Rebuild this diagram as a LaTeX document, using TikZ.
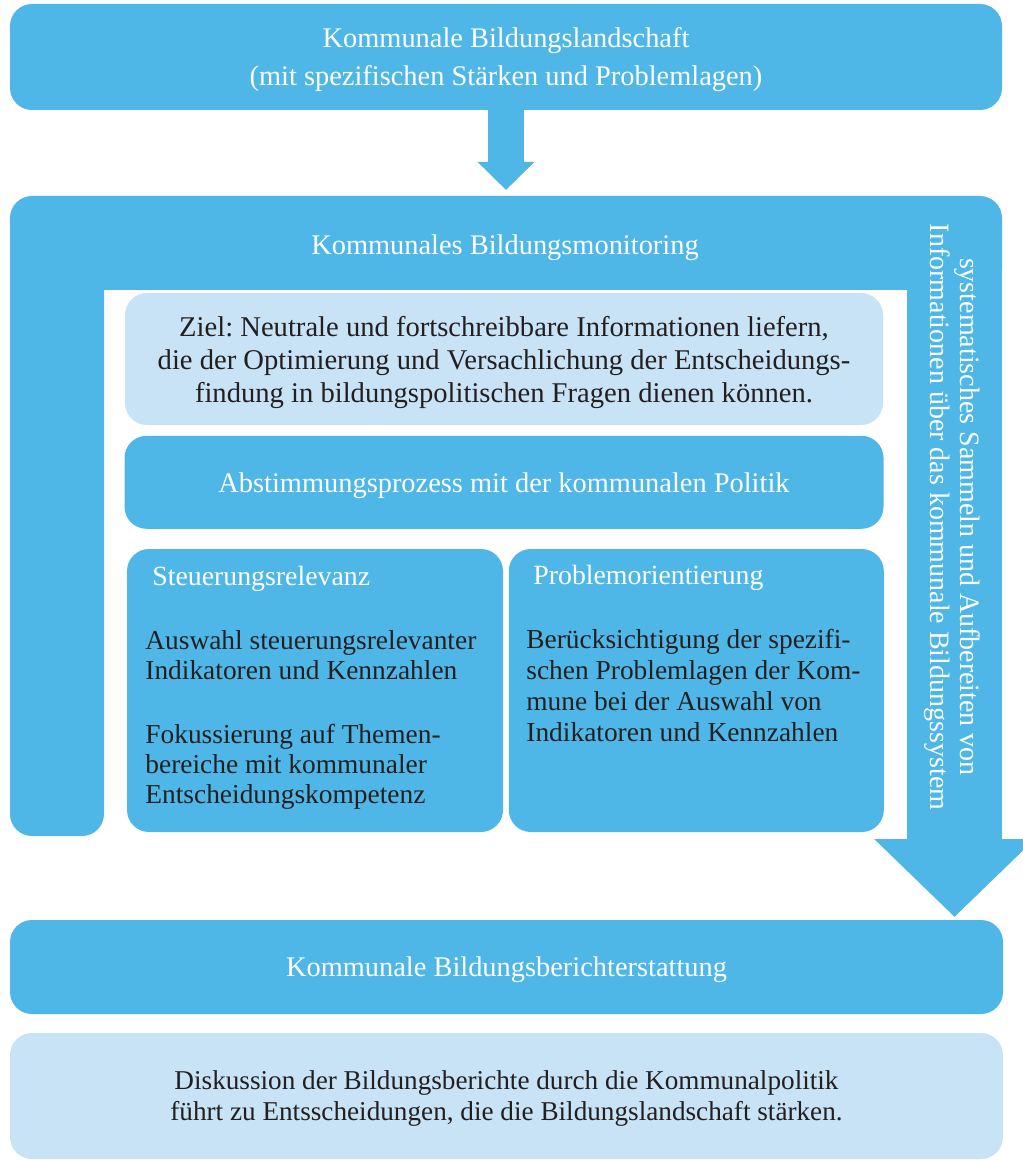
\documentclass[tikz,border=0pt]{standalone}
\usepackage{fontspec}
\setmainfont{Liberation Serif}
\usetikzlibrary{positioning, arrows.meta}
\definecolor{monblue}{RGB}{79,183,231}
\definecolor{monlight}{RGB}{199,227,245}
\definecolor{montext}{RGB}{35,31,32}
\frenchspacing

\begin{document}
\begin{tikzpicture}[x=0.5pt, y=-0.5pt, >={Triangle}]
    \tikzset{band/.style = {fill=monblue, rounded corners=11pt, text=white, align=center, inner sep=0pt,
                                text depth=0pt, font=\fontsize{14.2}{19}\selectfont},
             note/.style = {fill=monlight, rounded corners=11pt, text=montext, align=center, inner sep=0pt,
                                text depth=-2pt, font=\fontsize{14.3}{16.5}\selectfont},
             head/.style = {text=white, inner sep=0pt, font=\fontsize{13.9}{16}\selectfont},
             body/.style = {text=montext, inner sep=0pt, align=left, font=\fontsize{13.7}{15}\selectfont},
             fatarrow/.style = {draw=monblue, line width=18pt, -{Triangle[width=27.5pt, length=14pt]}}
            }
    \useasboundingbox (0,0) rectangle (1022,1160);

    % monitoring frame
    \fill[monblue, rounded corners=11pt] (10,196) rectangle (1002,290);
    \fill[monblue, rounded corners=11pt] (10,250) rectangle (104,836);
    \coordinate (sidetop) at (954.5,260);
    \coordinate (sidetip) at (954.5,917);
    \draw[draw=monblue, line width=47.5pt, -{Triangle[width=78pt, length=39pt]}] (sidetop) -- (sidetip);
    \coordinate (montop) at (506,196);

    \node (land) [band, minimum width=496pt, minimum height=53pt, text depth=-2pt] at (506,57) {Kommunale Bildungslandschaft\\(mit spezifischen Stärken und Problemlagen)};
    \node (moni) [band, fill=none] at (505,245) {Kommunales Bildungsmonitoring};
    \node (side) [band, fill=none, rotate=-90, font=\fontsize{14}{15}\selectfont] at (955,517) {systematisches Sammeln und Aufbereiten von\\Informationen über das kommunale Bildungssystem};

    \node (ziel) [note, minimum width=379pt, minimum height=66pt] at (504,359) {Ziel: Neutrale und fortschreibbare Informationen liefern,\\die der Optimierung und Versachlichung der Entscheidungs-\\findung in bildungspolitischen Fragen dienen können.};
    \node (abst) [band, minimum width=379.5pt, minimum height=46.5pt, below=5pt of ziel] {Abstimmungsprozess mit der kommunalen Politik};

    \node (steu) [band, minimum width=188pt, minimum height=141.5pt] at (315,690.5) {};
    \node (prob) [band, minimum width=187.5pt, minimum height=141.5pt, right=2.5pt of steu] {};
    \node (steutitle) [head, anchor=base west] at (152,585) {Steuerungsrelevanz};
    \node (steutext) [body, anchor=north west] at (145,630) {Auswahl steuerungsrelevanter\\Indikatoren und Kennzahlen\\[17pt]Fokussierung auf Themen-\\bereiche mit kommunaler\\Entscheidungskompetenz};
    \node (probtitle) [head, anchor=base west] at (533,584) {Problemorientierung};
    \node (probtext) [body, anchor=north west, font=\fontsize{13.7}{15.5}\selectfont] at (526,629) {Berücksichtigung der spezifi-\\schen Problemlagen der Kom-\\mune bei der Auswahl von\\Indikatoren und Kennzahlen};

    \node (bericht) [band, minimum width=496.5pt, minimum height=47pt, text depth=-1pt] at (506.5,967) {Kommunale Bildungsberichterstattung};
    \node (disk) [note, minimum width=496.5pt, minimum height=63pt, text depth=-3pt, font=\fontsize{13.6}{15.5}\selectfont] at (506.5,1096) {Diskussion der Bildungsberichte durch die Kommunalpolitik\\führt zu Entsscheidungen, die die Bildungslandschaft stärken.};

    \draw[fatarrow, shorten >=3pt] (land.south) -- (montop);
\end{tikzpicture}
\end{document}
